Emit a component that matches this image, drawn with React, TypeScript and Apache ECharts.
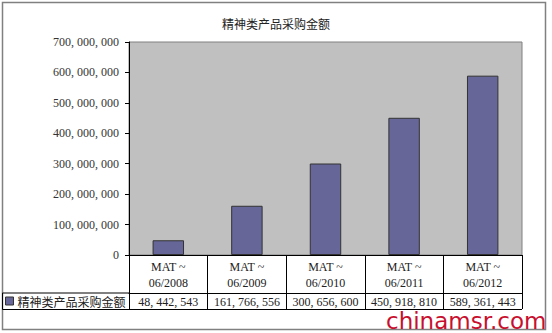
import React, { useEffect, useRef } from "react";
import * as echarts from "echarts";

const title = "精神类产品采购金额";
const seriesName = "精神类产品采购金额";
const categories = ["MAT ~\n06/2008", "MAT ~\n06/2009", "MAT ~\n06/2010", "MAT ~\n06/2011", "MAT ~\n06/2012"];
const values = [48442543, 161766556, 300656600, 450918810, 589361443];
const yMax = 700000000;
const yInterval = 100000000;
const watermark = "chinamsr.com";

const fmt = (n: number) => String(n).replace(/\B(?=(\d{3})+(?!\d))/g, ", ");

export default function App() {
  const ref = useRef<HTMLDivElement>(null);
  useEffect(() => {
    if (!ref.current) return;
    const chart = echarts.init(ref.current, undefined, { renderer: "svg" });
    const serif = "Liberation Serif";
    const cjk = "Noto Sans CJK SC";
    chart.setOption({
      animation: false,
      backgroundColor: "#ffffff",
      title: {
        text: title,
        left: "center",
        top: 12,
        textStyle: { fontFamily: cjk, fontSize: 12, fontWeight: "normal", color: "#222" },
      },
      legend: {
        left: 5,
        top: 295,
        icon: "rect",
        itemWidth: 8,
        itemHeight: 8,
        itemGap: 4,
        padding: 0,
        textStyle: { fontFamily: cjk, fontSize: 12, color: "#222", padding: [0, 0, 0, -1] },
        itemStyle: { borderColor: "#333", borderWidth: 1 },
        data: [seriesName],
      },
      grid: {
        left: 129,
        right: 30,
        top: 42,
        bottom: 78,
        show: true,
        backgroundColor: "#c0c0c0",
        borderColor: "#808080",
        borderWidth: 1,
      },
      xAxis: [
        {
          type: "category",
          data: categories,
          position: "bottom",
          axisLine: { show: true, lineStyle: { color: "#000", width: 1 } },
          axisTick: { show: true, length: 38, lineStyle: { color: "#000" } },
          axisLabel: {
            interval: 0,
            margin: 4,
            fontFamily: serif,
            fontSize: 12,
            lineHeight: 16,
            color: "#222",
          },
        },
        {
          type: "category",
          data: values.map(fmt),
          position: "bottom",
          offset: 38,
          axisLine: { show: true, lineStyle: { color: "#000", width: 1 } },
          axisTick: { show: true, length: 16, lineStyle: { color: "#000" } },
          axisLabel: { interval: 0, margin: 3, fontFamily: serif, fontSize: 12, color: "#222" },
        },
      ],
      yAxis: {
        type: "value",
        min: 0,
        max: yMax,
        interval: yInterval,
        axisLine: { show: true, lineStyle: { color: "#000", width: 1 } },
        axisTick: { show: true, length: 4, inside: false, lineStyle: { color: "#000" } },
        splitLine: { show: false },
        axisLabel: {
          margin: 10,
          fontFamily: serif,
          fontSize: 12,
          color: "#333333",
          formatter: (v: number) => fmt(v),
        },
      },
      series: [
        {
          name: seriesName,
          type: "bar",
          xAxisIndex: 0,
          data: values,
          barWidth: "40%",
          itemStyle: { color: "#666699", borderColor: "#333", borderWidth: 1 },
        },
      ],
      graphic: [
        {
          type: "rect",
          shape: { x: 2.5, y: 2.5, width: 543, height: 327 },
          style: { fill: "none", stroke: "#808080", lineWidth: 1.5 },
          silent: true,
        },
        {
          type: "line",
          shape: { x1: 2.5, y1: 293, x2: 129, y2: 293 },
          style: { stroke: "#000", lineWidth: 1 },
        },
        {
          type: "line",
          shape: { x1: 2.5, y1: 309.5, x2: 522, y2: 309.5 },
          style: { stroke: "#000", lineWidth: 1 },
        },
        {
          type: "line",
          shape: { x1: 2.5, y1: 293, x2: 2.5, y2: 309.5 },
          style: { stroke: "#000", lineWidth: 1 },
        },
        {
          type: "text",
          left: 386,
          top: 309,
          style: {
            text: watermark,
            fontFamily: "DejaVu Sans",
            fontSize: 23,
            fill: "#c8102e",
          },
          z: 100,
        },
      ],
    });
    return () => chart.dispose();
  }, []);
  return (
    <div
      ref={ref}
      style={{ position: "fixed", left: 0, top: 0, width: 552, height: 333 }}
    />
  );
}
